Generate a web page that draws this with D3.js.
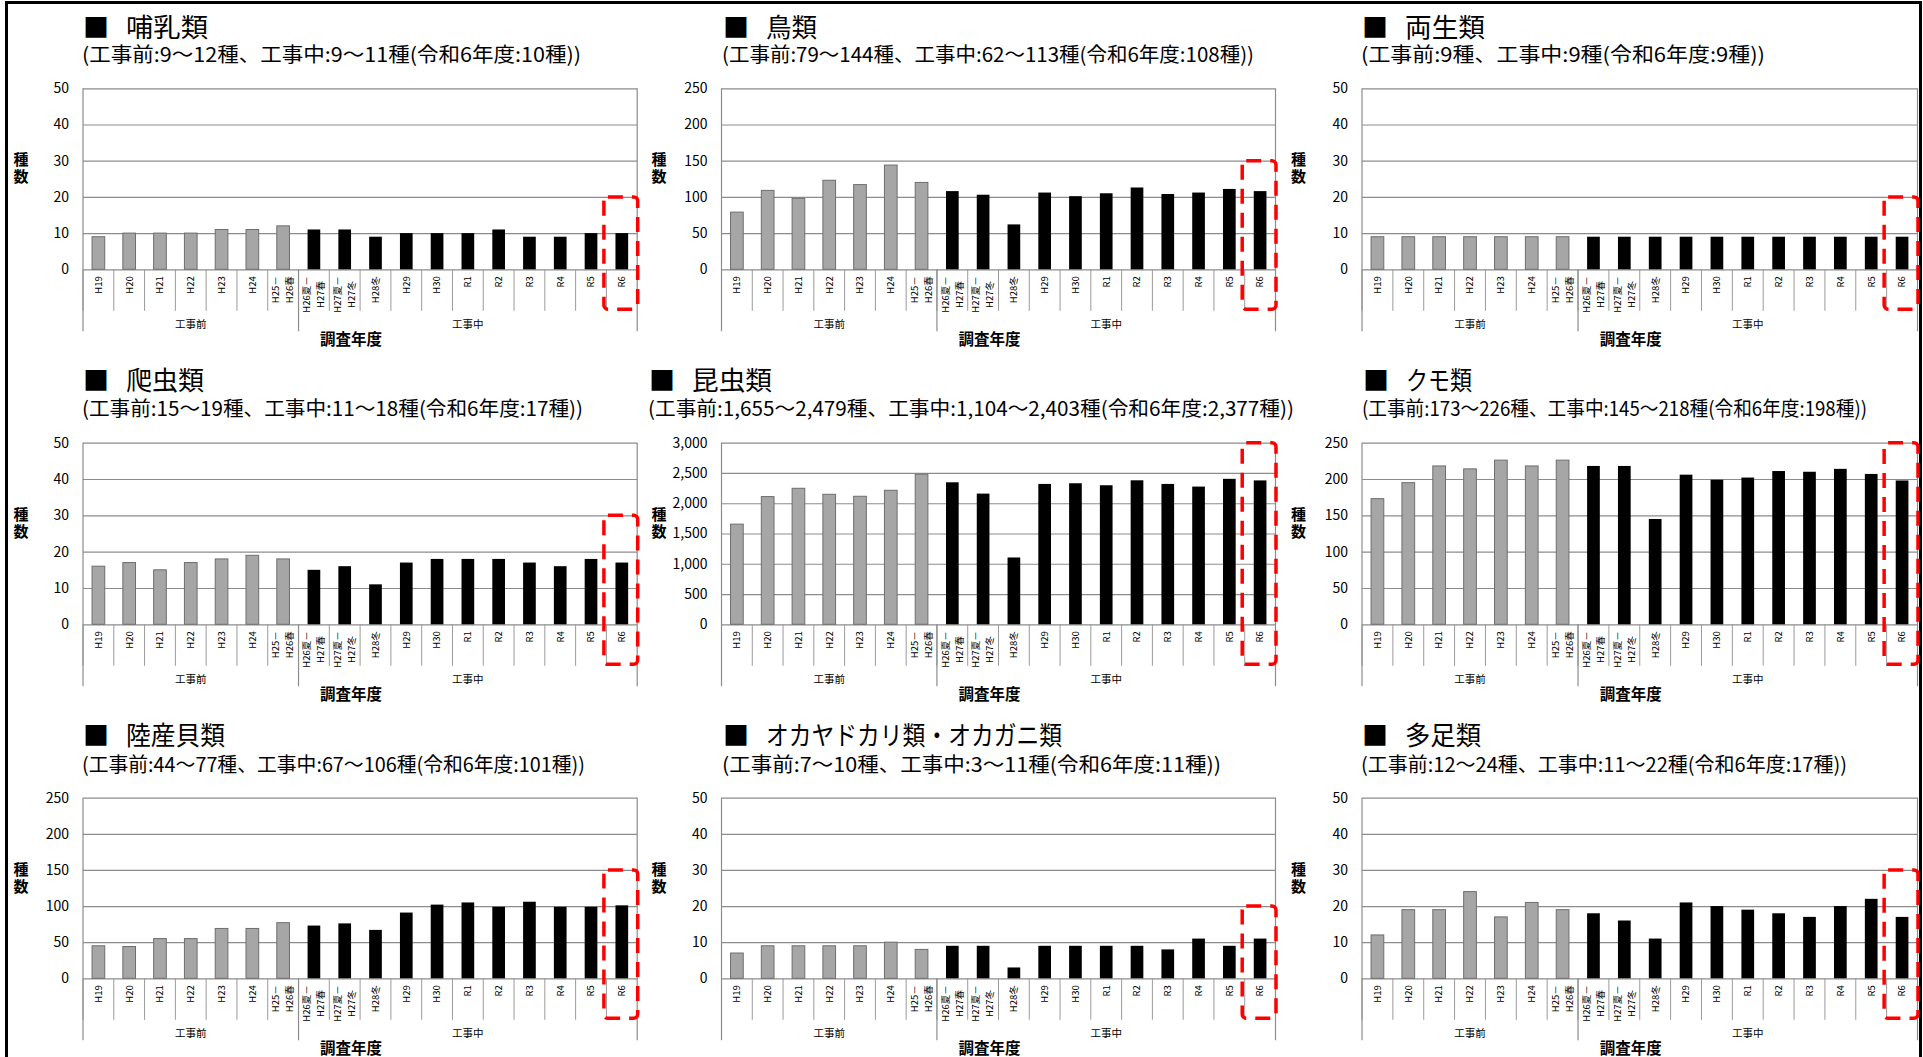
<!DOCTYPE html>
<html lang="ja">
<head>
<meta charset="utf-8">
<title>調査年度別の確認種数</title>
<script src="https://cdn.jsdelivr.net/npm/d3@7"></script>
<style>
  html, body { margin: 0; padding: 0; background: #fff; }
  svg { display: block; }
  text { font-family: "Noto Sans CJK JP", "Noto Sans", sans-serif; fill: #000; }
</style>
</head>
<body>
<svg id="chart" width="1923" height="1057"></svg>
<script>
// ---- data ----------------------------------------------------------------
const categories = [
  "H19", "H20", "H21", "H22", "H23", "H24", "H25－\nH26春",
  "H26夏－\nH27春", "H27夏－\nH27冬", "H28冬", "H29", "H30",
  "R1", "R2", "R3", "R4", "R5", "R6"
];
const phases = [
  "工事前", "工事前", "工事前", "工事前", "工事前", "工事前", "工事前",
  "工事中", "工事中", "工事中", "工事中", "工事中", "工事中",
  "工事中", "工事中", "工事中", "工事中", "工事中"
];
const phaseNames = ["工事前", "工事中"];

const mammals    = [9, 10, 10, 10, 11, 11, 12, 11, 11, 9, 10, 10, 10, 11, 9, 9, 10, 10];
const birds      = [79, 109, 98, 123, 117, 144, 120, 108, 103, 62, 106, 101, 105, 113, 104, 106, 111, 108];
const amphibians = [9, 9, 9, 9, 9, 9, 9, 9, 9, 9, 9, 9, 9, 9, 9, 9, 9, 9];
const reptiles   = [16, 17, 15, 17, 18, 19, 18, 15, 16, 11, 17, 18, 18, 18, 17, 16, 18, 17];
const insects    = [1655, 2110, 2247, 2148, 2115, 2214, 2479, 2346, 2159, 1104, 2319, 2330, 2297, 2379, 2319, 2275, 2403, 2377];
const spiders    = [173, 195, 218, 214, 226, 218, 226, 218, 218, 145, 206, 199, 202, 211, 210, 214, 207, 198];
const landSnails = [45, 44, 55, 55, 69, 69, 77, 73, 76, 67, 91, 102, 105, 99, 106, 99, 99, 101];
const landCrabs  = [7, 9, 9, 9, 9, 10, 8, 9, 9, 3, 9, 9, 9, 9, 8, 11, 9, 11];
const myriapods  = [12, 19, 19, 24, 17, 21, 19, 18, 16, 11, 21, 20, 19, 18, 17, 20, 22, 17];

const panelNames = ["哺乳類", "鳥類", "両生類", "爬虫類", "昆虫類", "クモ類",
                    "陸産貝類", "オカヤドカリ類・オカガニ類", "多足類"];
const panelSeries = [mammals, birds, amphibians, reptiles, insects, spiders,
                     landSnails, landCrabs, myriapods];
const yMaxes  = [50, 250, 50, 50, 3000, 250, 250, 50, 50];
const ySteps  = [10, 50, 10, 10, 500, 50, 50, 10, 10];
// upper edge of the dashed highlight around the latest survey year
const highlightTops = [20, 150, 20, 30, 3000, 250, 150, 20, 30];
const highlightCategory = "R6";
const axisTitle = "調査年度";
const countLabel = "種数";

// ---- layout --------------------------------------------------------------
const cols = [
  { left: 83,    right: 637.2,  countX: 21 },
  { left: 721.5, right: 1275.5, countX: 659 },
  { left: 1362,  right: 1917.5, countX: 1298.5 }
];
const rows = [
  { top: 88.3,  bottom: 269.3, titleY: 25,    subY: 53.5 },
  { top: 442.7, bottom: 624.3, titleY: 378.5, subY: 407.5 },
  { top: 797.7, bottom: 978.3, titleY: 733,   subY: 763 }
];
const headX      = [82, 722, 1361, 82, 648, 1362, 82, 722, 1361];
const subWidths  = [499, 532, 404, 501, 646, 505, 503, 499, 486];
const nameWidths = [82, 51, 80, 78, 80, 66, 99, 296, 76];

const GRID = "#8c8c8c";
const SEP = "#9a9a9a";

const svg = d3.select("#chart");

// outer frame
svg.append("rect")
  .attr("x", 6.5).attr("y", 2.5)
  .attr("width", 1914).attr("height", 1100)
  .attr("fill", "none").attr("stroke", "#000").attr("stroke-width", 3);

panelNames.forEach((name, i) => {
  const col = cols[i % 3];
  const row = rows[Math.floor(i / 3)];
  const values = panelSeries[i];
  const g = svg.append("g").attr("class", "panel");

  const useComma = yMaxes[i] >= 1000;
  const fmt = useComma ? d3.format(",") : d3.format("d");

  const x = d3.scaleBand()
    .domain(categories)
    .range([col.left, col.right])
    .paddingInner(0.588)
    .paddingOuter(0.294);
  const y = d3.scaleLinear()
    .domain([0, yMaxes[i]])
    .range([row.bottom, row.top]);
  const gap = (x.step() - x.bandwidth()) / 2;

  // ---- heading ----
  const hx = headX[i];
  g.append("text")
    .attr("x", hx + 1).attr("y", row.titleY)
    .attr("dominant-baseline", "central")
    .attr("font-size", 26)
    .text("■");
  g.append("text")
    .attr("x", hx + 44).attr("y", row.titleY)
    .attr("dominant-baseline", "central")
    .attr("font-size", 26)
    .attr("textLength", nameWidths[i])
    .attr("lengthAdjust", "spacingAndGlyphs")
    .text(name);

  const span = arr => {
    const [a, b] = d3.extent(arr);
    return a === b ? fmt(a) : `${fmt(a)}～${fmt(b)}`;
  };
  const before = values.filter((v, k) => phases[k] === phaseNames[0]);
  const during = values.filter((v, k) => phases[k] === phaseNames[1]);
  const latest = values[categories.indexOf(highlightCategory)];
  g.append("text")
    .attr("x", hx).attr("y", row.subY)
    .attr("dominant-baseline", "central")
    .attr("font-size", 20)
    .attr("textLength", subWidths[i])
    .attr("lengthAdjust", "spacingAndGlyphs")
    .text(`(${phaseNames[0]}:${span(before)}種、${phaseNames[1]}:${span(during)}種(令和6年度:${fmt(latest)}種))`);

  // ---- value axis with gridlines ----
  const yAxis = d3.axisLeft(y)
    .tickValues(d3.range(0, yMaxes[i] + 1, ySteps[i]))
    .tickSize(-(col.right - col.left))
    .tickPadding(14)
    .tickFormat(fmt);
  g.append("g")
    .attr("transform", `translate(${col.left},0)`)
    .call(yAxis)
    .call(a => a.select(".domain").remove())
    .call(a => a.selectAll(".tick line").attr("stroke", GRID).attr("stroke-width", 1.2))
    .call(a => a.selectAll(".tick text")
      .attr("font-family", "'Liberation Sans', Arial, sans-serif")
      .attr("font-size", 14)
      .attr("fill", "#000"));

  // count label, written vertically
  g.append("text")
    .attr("x", col.countX)
    .attr("y", row.top + 64)
    .attr("writing-mode", "vertical-rl")
    .attr("style", "text-orientation: upright; letter-spacing: 2px")
    .attr("font-size", 15)
    .attr("font-weight", 700)
    .text(countLabel);

  // ---- bars ----
  g.append("g").selectAll("rect")
    .data(categories.map((c, k) => ({ c, v: values[k], phase: phases[k] })))
    .join("rect")
    .attr("x", d => x(d.c))
    .attr("y", d => y(d.v))
    .attr("width", x.bandwidth())
    .attr("height", d => y(0) - y(d.v))
    .attr("fill", d => d.phase === phaseNames[0] ? "#a6a6a6" : "#000")
    .attr("stroke", d => d.phase === phaseNames[0] ? "#6e6e6e" : "none")
    .attr("stroke-width", 1);

  // ---- category axis: separators, rotated labels, phase groups ----
  const bounds = categories.map(c => x(c) - gap);
  g.append("g").selectAll("line")
    .data(bounds)
    .join("line")
    .attr("x1", d => d).attr("x2", d => d)
    .attr("y1", row.bottom).attr("y2", row.bottom + 41.5)
    .attr("stroke", SEP).attr("stroke-width", 1);

  const groupEdges = [col.left];
  categories.forEach((c, k) => {
    if (k > 0 && phases[k] !== phases[k - 1]) groupEdges.push(x(c) - gap);
  });
  groupEdges.push(col.right);
  // frame sides run down through the category area
  g.append("g").selectAll("line")
    .data(groupEdges)
    .join("line")
    .attr("x1", d => d).attr("x2", d => d)
    .attr("y1", (d, k) => (k === 0 || k === groupEdges.length - 1) ? row.top : row.bottom)
    .attr("y2", row.bottom + 62)
    .attr("stroke", GRID).attr("stroke-width", 1.2);

  phaseNames.forEach((p, k) => {
    g.append("text")
      .attr("x", (groupEdges[k] + groupEdges[k + 1]) / 2)
      .attr("y", row.bottom + 54)
      .attr("text-anchor", "middle")
      .attr("dominant-baseline", "central")
      .attr("font-size", 10.5)
      .text(p);
  });

  categories.forEach(c => {
    const lines = c.split("\n");
    const cx = x(c) + x.bandwidth() / 2;
    const lg = g.append("g")
      .attr("transform", `translate(${cx},${row.bottom + 7}) rotate(-90)`);
    const texts = lines.map((s, k) => lg.append("text")
      .attr("y", (k - (lines.length - 1) / 2) * 14)
      .attr("dy", "0.35em")
      .attr("font-family", "'Liberation Sans', 'Noto Sans CJK JP', sans-serif")
      .attr("font-size", 9.5)
      .text(s));
    if (lines.length === 1) {
      texts[0].attr("text-anchor", "end").attr("x", 0);
    } else {
      const w = d3.max(texts, t => t.node().getComputedTextLength());
      texts.forEach(t => t.attr("text-anchor", "middle").attr("x", -w / 2));
    }
  });

  g.append("text")
    .attr("x", (col.left + col.right) / 2 - 9)
    .attr("y", row.bottom + 69)
    .attr("text-anchor", "middle")
    .attr("dominant-baseline", "central")
    .attr("font-size", 15.5)
    .attr("font-weight", 700)
    .text(axisTitle);

  // ---- dashed highlight on the latest survey year ----
  const hxPos = x(highlightCategory) - gap;
  g.append("rect")
    .attr("x", hxPos - 2.5)
    .attr("y", y(highlightTops[i]))
    .attr("width", x.step() + 3)
    .attr("height", row.bottom + 40 - y(highlightTops[i]))
    .attr("rx", 4).attr("ry", 4)
    .attr("fill", "none")
    .attr("stroke", "#ff0000")
    .attr("stroke-width", 3.5)
    .attr("stroke-dasharray", "15 9");
});
</script>
</body>
</html>
